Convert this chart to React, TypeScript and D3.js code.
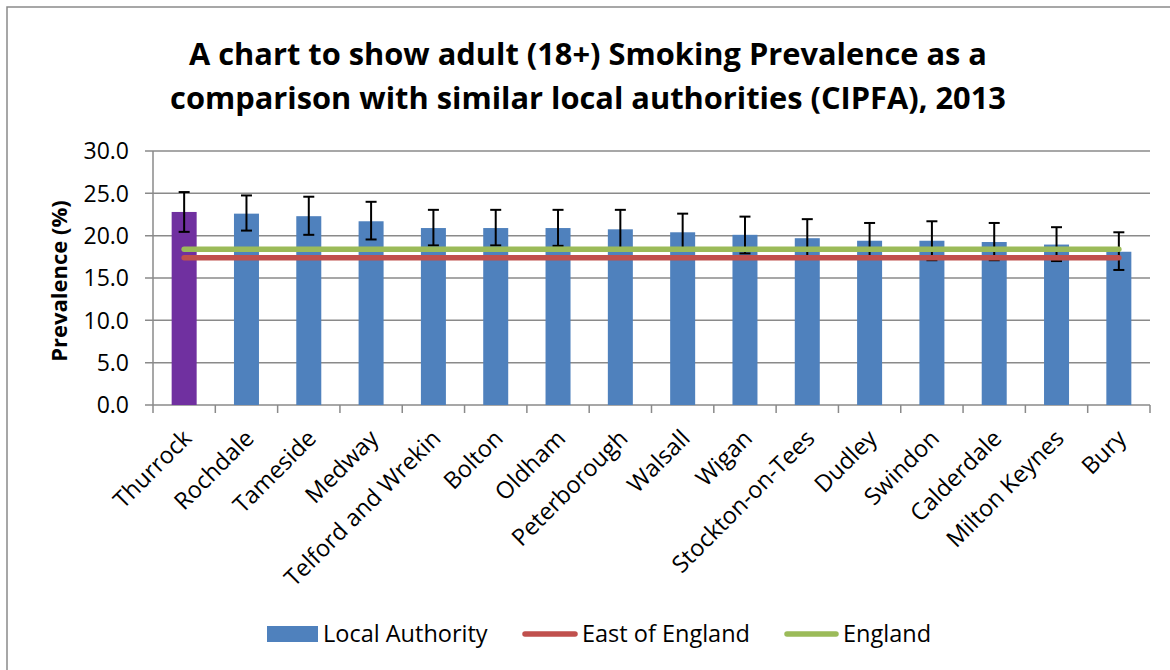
import React from "react";
import * as d3 from "d3";

const categories = [
  "Thurrock", "Rochdale", "Tameside", "Medway", "Telford and Wrekin", "Bolton",
  "Oldham", "Peterborough", "Walsall", "Wigan", "Stockton-on-Tees", "Dudley",
  "Swindon", "Calderdale", "Milton Keynes", "Bury",
];
const prevalence = [22.8, 22.6, 22.3, 21.7, 20.9, 20.9, 20.9, 20.75, 20.4, 20.1, 19.7, 19.4, 19.4, 19.25, 18.95, 18.1];
const upperCI = [25.15, 24.75, 24.6, 24.0, 23.05, 23.05, 23.05, 23.05, 22.6, 22.25, 21.95, 21.5, 21.7, 21.5, 21.0, 20.4];
const lowerCI = [20.45, 20.6, 20.1, 19.55, 18.85, 18.85, 18.8, 18.5, 18.2, 17.9, 17.5, 17.4, 17.1, 17.1, 17.0, 15.95];
const eastOfEngland = 17.4;
const england = 18.4;
const yTicks = [0, 5, 10, 15, 20, 25, 30];
const highlight = "Thurrock";
const titleLines = [
  "A chart to show adult (18+) Smoking Prevalence as a",
  "comparison with similar local authorities (CIPFA), 2013",
];
const legendItems = [
  { label: "Local Authority", kind: "bar" },
  { label: "East of England", kind: "line" },
  { label: "England", kind: "line" },
];

const BLUE = "#4F81BD";
const PURPLE = "#7030A0";
const RED = "#C0504D";
const GREEN = "#9BBB59";
const GRID = "#8a8a8a";
const FONT = "'Open Sans', 'DejaVu Sans', sans-serif";

export default function App() {
  const W = 1170;
  const H = 670;
  const left = 153;
  const right = 1150;
  const top = 151;
  const bottom = 405;

  const x = d3.scaleBand<string>().domain(categories).range([left, right]).paddingInner(0).paddingOuter(0);
  const y = d3.scaleLinear().domain([0, 30]).range([bottom, top]);
  const bw = 25;
  const cx = (c: string) => (x(c) as number) + x.bandwidth() / 2;

  const mkLine = (v: number) =>
    d3.line<string>().x((c) => cx(c)).y(() => y(v))([categories[0], categories[categories.length - 1]]) as string;

  const boundaries = categories.map((c) => x(c) as number).concat([right]);

  return (
    <svg width={W} height={H} style={{ display: "block", position: "absolute", left: 0, top: 0 }}>
      <rect x={0} y={0} width={W} height={H} fill="#fff" />
      <path d={`M7,${H + 5}V7H${W + 5}`} fill="none" stroke={GRID} strokeWidth={1.5} />

      {titleLines.map((t, i) => (
        <text key={i} x={588} y={65 + i * 44} textAnchor="middle" fontFamily={FONT} fontWeight="bold" fontSize={30.8} fill="#000">
          {t}
        </text>
      ))}

      {yTicks.map((t) => (
        <g key={t}>
          <line x1={145} x2={right} y1={y(t)} y2={y(t)} stroke={GRID} strokeWidth={1.5} />
          <text x={129} y={y(t)} dy="0.36em" textAnchor="end" fontFamily={FONT} fontSize={23} fill="#000">
            {t.toFixed(1)}
          </text>
        </g>
      ))}
      <line x1={left} x2={left} y1={top} y2={bottom} stroke={GRID} strokeWidth={1.5} />
      {boundaries.map((b, i) => (
        <line key={i} x1={b} x2={b} y1={bottom} y2={bottom + 8} stroke={GRID} strokeWidth={1.5} />
      ))}

      <text transform={`translate(59,${(top + bottom) / 2 + 3}) rotate(-90)`} textAnchor="middle" dy="0.35em"
        fontFamily={FONT} fontWeight="bold" fontSize={22} fill="#000">
        Prevalence (%)
      </text>

      {categories.map((c, i) => (
        <rect key={c} x={cx(c) - bw / 2} y={y(prevalence[i])} width={bw} height={bottom - y(prevalence[i])}
          fill={c === highlight ? PURPLE : BLUE} />
      ))}

      {categories.map((c, i) => (
        <g key={c} stroke="#000" strokeWidth={2}>
          <line x1={cx(c)} x2={cx(c)} y1={y(upperCI[i])} y2={y(lowerCI[i])} />
          <line x1={cx(c) - 5.5} x2={cx(c) + 5.5} y1={y(upperCI[i])} y2={y(upperCI[i])} />
          <line x1={cx(c) - 5.5} x2={cx(c) + 5.5} y1={y(lowerCI[i])} y2={y(lowerCI[i])} />
        </g>
      ))}

      <path d={mkLine(england)} stroke={GREEN} strokeWidth={5.5} strokeLinecap="round" fill="none" />
      <path d={mkLine(eastOfEngland)} stroke={RED} strokeWidth={5.5} strokeLinecap="round" fill="none" />

      {categories.map((c) => (
        <text key={c} transform={`translate(${cx(c) + 3},${bottom + 29}) rotate(-45)`} textAnchor="end" dy="0.35em"
          fontFamily={FONT} fontSize={23.5} fill="#000">
          {c}
        </text>
      ))}

      <g fontFamily={FONT} fontSize={23.5} fill="#000">
        <rect x={267} y={626} width={51} height={16} fill={BLUE} />
        <text x={323} y={634} dy="0.35em">{legendItems[0].label}</text>
        <line x1={525} x2={575} y1={634} y2={634} stroke={RED} strokeWidth={5.5} strokeLinecap="round" />
        <text x={582} y={634} dy="0.35em">{legendItems[1].label}</text>
        <line x1={787} x2={836} y1={634} y2={634} stroke={GREEN} strokeWidth={5.5} strokeLinecap="round" />
        <text x={843} y={634} dy="0.35em">{legendItems[2].label}</text>
      </g>
    </svg>
  );
}
